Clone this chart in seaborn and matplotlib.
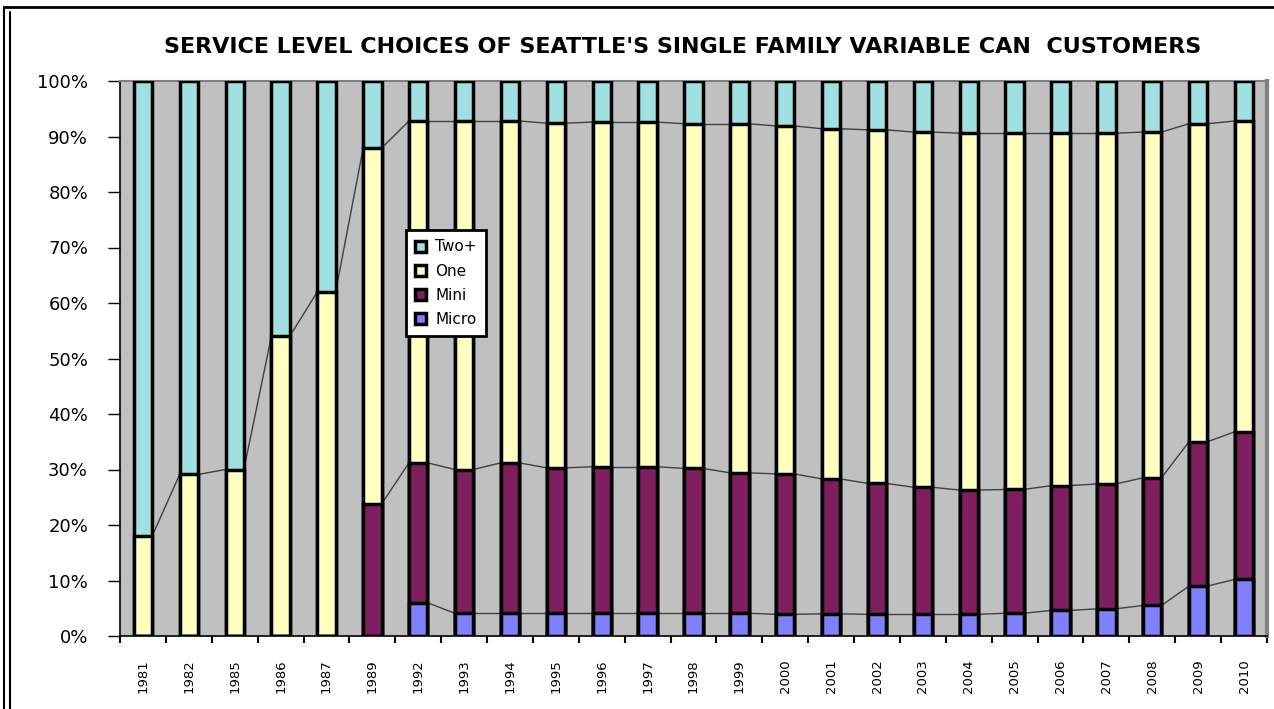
import numpy as np
import pandas as pd
import matplotlib
matplotlib.use("Agg")
import matplotlib.pyplot as plt
import seaborn as sns
from matplotlib.lines import Line2D

years = ['1981', '1982', '1985', '1986', '1987', '1989', '1992', '1993', '1994',
         '1995', '1996', '1997', '1998', '1999', '2000', '2001', '2002', '2003',
         '2004', '2005', '2006', '2007', '2008', '2009', '2010']
micro = [0, 0, 0, 0, 0, 0, 6.0, 4.1, 4.1, 4.1, 4.1, 4.1, 4.1, 4.1, 3.9, 4.0,
         3.9, 3.9, 3.9, 4.1, 4.6, 4.9, 5.5, 9.0, 10.2]
mini = [0, 0, 0, 0, 0, 23.8, 25.2, 25.9, 27.1, 26.2, 26.4, 26.4, 26.1, 25.3,
        25.3, 24.3, 23.6, 22.9, 22.4, 22.3, 22.5, 22.5, 23.0, 26.0, 26.6]
one = [18.0, 29.1, 30.0, 54.0, 62.0, 64.1, 61.6, 62.8, 61.6, 62.1, 62.1, 62.1,
       62.1, 62.9, 62.7, 63.1, 63.7, 64.0, 64.3, 64.2, 63.5, 63.2, 62.3, 57.3, 56.0]

series = ['Two+', 'One', 'Mini', 'Micro']
colors = {'Two+': '#A0E0E0', 'One': '#FFFFC0', 'Mini': '#801F5F', 'Micro': '#8080FF'}

df = pd.DataFrame({'year': years, 'Micro': micro, 'Mini': mini, 'One': one})
df['Two+'] = 100 - df['Micro'] - df['Mini'] - df['One']
# cumulative tops for stacking
df['top_Micro'] = df['Micro']
df['top_Mini'] = df['top_Micro'] + df['Mini']
df['top_One'] = df['top_Mini'] + df['One']
df['top_Two+'] = df['top_One'] + df['Two+']

sns.set_style("white")
plt.rcParams['font.family'] = ['DejaVu Sans']
plt.rcParams['text.color'] = 'black'
plt.rcParams['xtick.color'] = 'black'
plt.rcParams['ytick.color'] = 'black'

fig = plt.figure(figsize=(12.74, 7.09), dpi=100)
ax = fig.add_axes([120 / 1274, 73 / 709, 1147 / 1274, 555 / 709])
ax.set_facecolor('#C0C0C0')

bw = 0.4
for s in series:
    sns.barplot(data=df, x='year', y='top_' + s, order=years, color=colors[s],
                width=bw, edgecolor='black', linewidth=2.5, label=s,
                saturation=1, ax=ax, zorder=3)

# Excel-style series lines between adjacent bars
xs = np.arange(len(years))
for s in ['One', 'Mini', 'Micro']:
    tops = df['top_' + s].values
    for i in range(len(years) - 1):
        if df[s].values[i] > 0 and df[s].values[i + 1] > 0:
            ax.plot([xs[i] + bw / 2, xs[i + 1] - bw / 2], [tops[i], tops[i + 1]],
                    color='#404040', lw=1, zorder=2)

ax.set_xlim(-0.5, len(years) - 0.5)
ax.set_ylim(0, 100)
ax.set_yticks(np.arange(0, 101, 10))
ax.set_yticklabels([f'{v}%' for v in range(0, 101, 10)], fontsize=13)
ax.tick_params(axis='y', direction='out', length=9, width=1, color='black', pad=14, left=True)
ax.set_xticks(xs)
ax.set_xticklabels(years, rotation=90, fontsize=9.5)
ax.tick_params(axis='x', length=0, pad=17)
ax.set_xticks(np.arange(-0.5, len(years)), minor=True)
ax.tick_params(axis='x', which='minor', direction='out', length=5, width=1.5, color='black', bottom=True)
ax.set_xlabel('')
ax.set_ylabel('')

ax.spines['left'].set_color('black')
ax.spines['bottom'].set_color('black')
ax.spines['left'].set_linewidth(1.2)
ax.spines['bottom'].set_linewidth(1.2)
ax.spines['top'].set_color('#808080')
ax.spines['top'].set_linewidth(1.5)
ax.spines['right'].set_color('#808080')
ax.spines['right'].set_linewidth(3)

leg = ax.legend(loc='upper left', bbox_to_anchor=(0.249, 0.731), borderaxespad=0,
                fontsize=11, frameon=True, fancybox=False, framealpha=1,
                edgecolor='black', facecolor='white', handlelength=0.75,
                handleheight=0.75, handletextpad=0.6, labelspacing=0.6,
                borderpad=0.6)
leg.get_frame().set_linewidth(2)
leg.set_zorder(10)

fig.text(0.536, 1 - 47 / 709, "SERVICE LEVEL CHOICES OF SEATTLE'S SINGLE FAMILY VARIABLE CAN  CUSTOMERS",
         ha='center', va='center', fontsize=16, fontweight='bold', color='black')

# outer frame lines
W, H = 1274, 709
fig.add_artist(Line2D([4 / W, 4 / W], [0, 1 - 7 / H], color='black', lw=1.5))
fig.add_artist(Line2D([10 / W, 10 / W], [0, 1 - 12 / H], color='black', lw=1.5))
fig.add_artist(Line2D([4 / W, 1], [1 - 7 / H, 1 - 7 / H], color='black', lw=2))

fig.savefig('out.png', dpi=100)
